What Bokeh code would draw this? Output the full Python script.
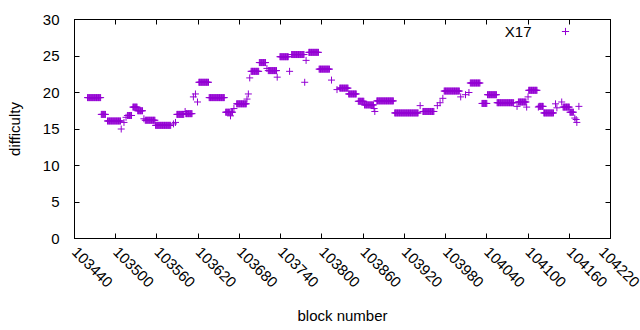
import numpy as np
from bokeh.plotting import figure
from bokeh.models import (Range1d, FixedTicker, LinearAxis, Legend, LegendItem, Label,
                          ColumnDataSource, BasicTickFormatter)
from bokeh.core.properties import value
from bokeh.embed import file_html
from bokeh.resources import INLINE

# ---- data: runs of blocks with constant difficulty (start block, end block, difficulty)
run_start = [103459, 103479, 103488, 103508, 103512, 103515, 103517, 103525, 103532, 103541,
             103543, 103558, 103584, 103587, 103589, 103601, 103602, 103613, 103616, 103619,
             103621, 103636, 103660, 103667, 103668, 103672, 103676, 103691, 103693, 103695,
             103697, 103709, 103720, 103722, 103735, 103739, 103753, 103756, 103775, 103777,
             103781, 103796, 103814, 103822, 103826, 103839, 103853, 103862, 103876, 103877,
             103880, 103906, 103943, 103947, 103968, 103972, 103976, 103978, 104002, 104009,
             104014, 104016, 104033, 104041, 104055, 104084, 104086, 104098, 104100, 104101,
             104115, 104116, 104123, 104140, 104142, 104149, 104151, 104161, 104168, 104170,
             104171, 104174]
run_end = [103478, 103485, 103507, 103508, 103512, 103515, 103523, 103531, 103539, 103541,
           103557, 103580, 103584, 103587, 103599, 103601, 103611, 103613, 103616, 103619,
           103635, 103658, 103666, 103667, 103670, 103672, 103690, 103691, 103693, 103695,
           103708, 103718, 103720, 103734, 103735, 103751, 103753, 103774, 103775, 103777,
           103795, 103811, 103814, 103822, 103838, 103850, 103861, 103875, 103876, 103877,
           103904, 103940, 103943, 103963, 103968, 103972, 103976, 104000, 104002, 104009,
           104014, 104030, 104040, 104054, 104079, 104084, 104097, 104098, 104100, 104113,
           104115, 104122, 104137, 104140, 104142, 104149, 104160, 104166, 104168, 104170,
           104171, 104174]
run_difficulty = [19.3, 17.0, 16.1, 15.0, 15.9, 16.6, 16.85, 18.0, 17.5, 16.4,
                  16.2, 15.5, 15.7, 15.9, 17.0, 17.4, 17.1, 19.4, 19.8, 18.7,
                  21.4, 19.3, 17.3, 16.8, 17.3, 17.8, 18.45, 19.1, 19.8, 22.0,
                  22.9, 24.1, 23.3, 23.0, 22.1, 24.9, 22.9, 25.2, 21.4, 24.4,
                  25.5, 23.2, 21.7, 20.4, 20.6, 19.8, 18.8, 18.3, 17.8, 17.4,
                  18.85, 17.2, 18.2, 17.4, 18.2, 18.6, 19.2, 20.2, 19.4, 19.7,
                  20.0, 21.3, 18.5, 19.7, 18.6, 18.1, 18.7, 18.0, 19.4, 20.3,
                  18.0, 18.1, 17.2, 18.45, 17.9, 18.7, 18.0, 17.3, 16.5, 16.3,
                  15.9, 18.1]

x_ticks = [103440, 103500, 103560, 103620, 103680, 103740, 103800, 103860, 103920,
           103980, 104040, 104100, 104160, 104220]
y_ticks = [0, 5, 10, 15, 20, 25, 30]
series_name = "X17"

# one point per block
blocks = np.concatenate([np.arange(s, e + 1) for s, e in zip(run_start, run_end)])
difficulty = np.concatenate([np.full(e - s + 1, d) for s, e, d in zip(run_start, run_end, run_difficulty)])
source = ColumnDataSource(dict(block=blocks, difficulty=difficulty))

FONT = "Liberation Sans"
FS = "15px"
COLOR = "#9400D3"

p = figure(width=640, height=330, output_backend="svg", toolbar_location=None,
           x_range=Range1d(x_ticks[0], x_ticks[-1]), y_range=Range1d(y_ticks[0], y_ticks[-1]),
           min_border_left=74, min_border_right=30, min_border_top=19, min_border_bottom=92,
           x_axis_label="block number", y_axis_label="difficulty")
p.xgrid.visible = False
p.ygrid.visible = False
p.outline_line_color = "black"
p.outline_line_width = 1
p.background_fill_color = "white"
p.border_fill_color = "white"

r = p.scatter("block", "difficulty", source=source, marker="cross", size=7,
              line_color=COLOR, line_width=1)

for ax in (p.xaxis[0], p.yaxis[0]):
    ax.major_tick_in = 5
    ax.major_tick_out = 0
    ax.minor_tick_line_color = None
    ax.axis_line_color = "black"
    ax.major_tick_line_color = "black"
    ax.major_label_text_font = FONT
    ax.major_label_text_font_size = FS
    ax.major_label_text_color = "black"
    ax.axis_label_text_font = FONT
    ax.axis_label_text_font_size = FS
    ax.axis_label_text_font_style = "normal"
    ax.axis_label_text_color = "black"

p.xaxis[0].ticker = FixedTicker(ticks=x_ticks)
p.xaxis[0].formatter = BasicTickFormatter(use_scientific=False)
p.xaxis[0].major_label_orientation = -np.pi / 4
p.xaxis[0].major_label_standoff = 11
p.xaxis[0].axis_label_standoff = 12
p.yaxis[0].ticker = FixedTicker(ticks=y_ticks)
p.yaxis[0].major_label_standoff = 15
p.yaxis[0].axis_label_standoff = 17

# mirrored ticks on top and right (no labels)
top = LinearAxis(ticker=FixedTicker(ticks=x_ticks), major_tick_in=5, major_tick_out=0,
                 minor_tick_line_color=None, major_label_text_color=None,
                 major_label_text_font_size="8px",
                 major_label_standoff=0, axis_line_color="black")
right = LinearAxis(ticker=FixedTicker(ticks=y_ticks), major_tick_in=5, major_tick_out=0,
                   minor_tick_line_color=None, major_label_text_color=None,
                   major_label_text_font_size="8px",
                   major_label_standoff=0, axis_line_color="black")
p.add_layout(top, "above")
p.add_layout(right, "right")

# key: label to the left of the sample marker (gnuplot style)
legend = Legend(items=[LegendItem(label=value(""), renderers=[r])],
                location=(482, 198), glyph_width=18, glyph_height=18,
                label_width=0, label_height=0, label_standoff=0, padding=0, spacing=0,
                margin=0, border_line_alpha=0, background_fill_alpha=0,
                label_text_color=None)
p.add_layout(legend)
p.add_layout(Label(x=457, y=207, x_units="screen", y_units="screen", text=series_name,
                   text_align="right", text_baseline="middle", text_font=FONT,
                   text_font_size=FS, text_color="black"))

open("out.html", "w").write(file_html(p, INLINE))
